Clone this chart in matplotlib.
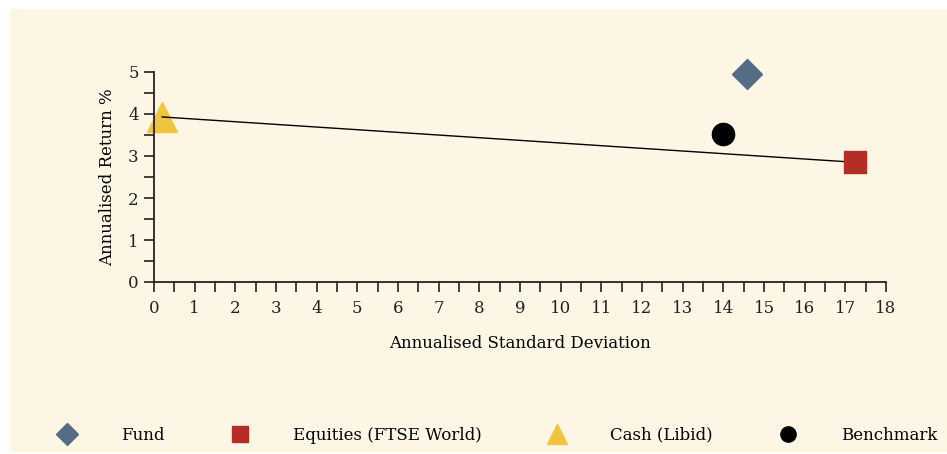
import matplotlib.pyplot as plt
from matplotlib.patches import Rectangle
from matplotlib.ticker import MultipleLocator

plt.rcParams['font.family'] = ['DejaVu Serif']

names = ["Fund", "Equities (FTSE World)", "Cash (Libid)", "Benchmark"]
std_dev = [14.58, 17.24, 0.2, 13.99]
returns = [4.95, 2.85, 3.93, 3.52]
colors = ["#546d84", "#b52e25", "#efc540", "#000000"]
markers = ["D", "s", "^", "o"]
sizes = [15, 16, 22, 16]

bg = "#fdf6e4"

fig = plt.figure(figsize=(9.47, 4.54), dpi=100)
fig.patch.set_facecolor("white")
fig.patches.append(Rectangle((10/947, 2/454), 1, 1 - 11/454, transform=fig.transFigure,
                             facecolor=bg, edgecolor="none", zorder=-1))

ax = fig.add_axes([154/947, 1 - 282/454, 732/947, 210/454])
ax.patch.set_alpha(0)

# line from cash to equities
ax.plot([std_dev[2], std_dev[1]], [returns[2], returns[1]], color="black", lw=1, zorder=2)

for n, x, y, c, m, s in zip(names, std_dev, returns, colors, markers, sizes):
    ax.plot(x, y, marker=m, color=c, markersize=s, linestyle="none",
            clip_on=False, zorder=1 if m == "^" else 3, label=n)

ax.set_xlim(0, 18)
ax.set_ylim(0, 5)
ax.xaxis.set_major_locator(MultipleLocator(1))
ax.xaxis.set_minor_locator(MultipleLocator(0.5))
ax.yaxis.set_major_locator(MultipleLocator(1))
ax.yaxis.set_minor_locator(MultipleLocator(0.5))
for s in ["top", "right"]:
    ax.spines[s].set_visible(False)
for s in ["left", "bottom"]:
    ax.spines[s].set_linewidth(1.3)
    ax.spines[s].set_color("#222222")
ax.tick_params(which="both", direction="out", width=1.2, color="#222222",
               length=7, labelsize=12, labelcolor="#222222")
ax.tick_params(axis="x", which="major", pad=6)
ax.tick_params(axis="y", which="major", pad=4)

ax.set_xlabel("Annualised Standard Deviation", fontsize=12, labelpad=13)
ax.set_ylabel("Annualised Return %", fontsize=12, labelpad=9)

leg_handles = []
for c, m, s in zip(colors, markers, [11, 11, 15, 11]):
    h, = ax.plot([], [], marker=m, color=c, markersize=s, linestyle="none")
    leg_handles.append(h)
fig.legend(leg_handles, names, loc="center left", bbox_to_anchor=(59/947, 1 - 435/454),
           ncol=4, frameon=False, fontsize=12, handlelength=1.0, handletextpad=2.7,
           columnspacing=4.02, borderpad=0, borderaxespad=0)

fig.savefig("out.png", dpi=100, facecolor=fig.get_facecolor())
